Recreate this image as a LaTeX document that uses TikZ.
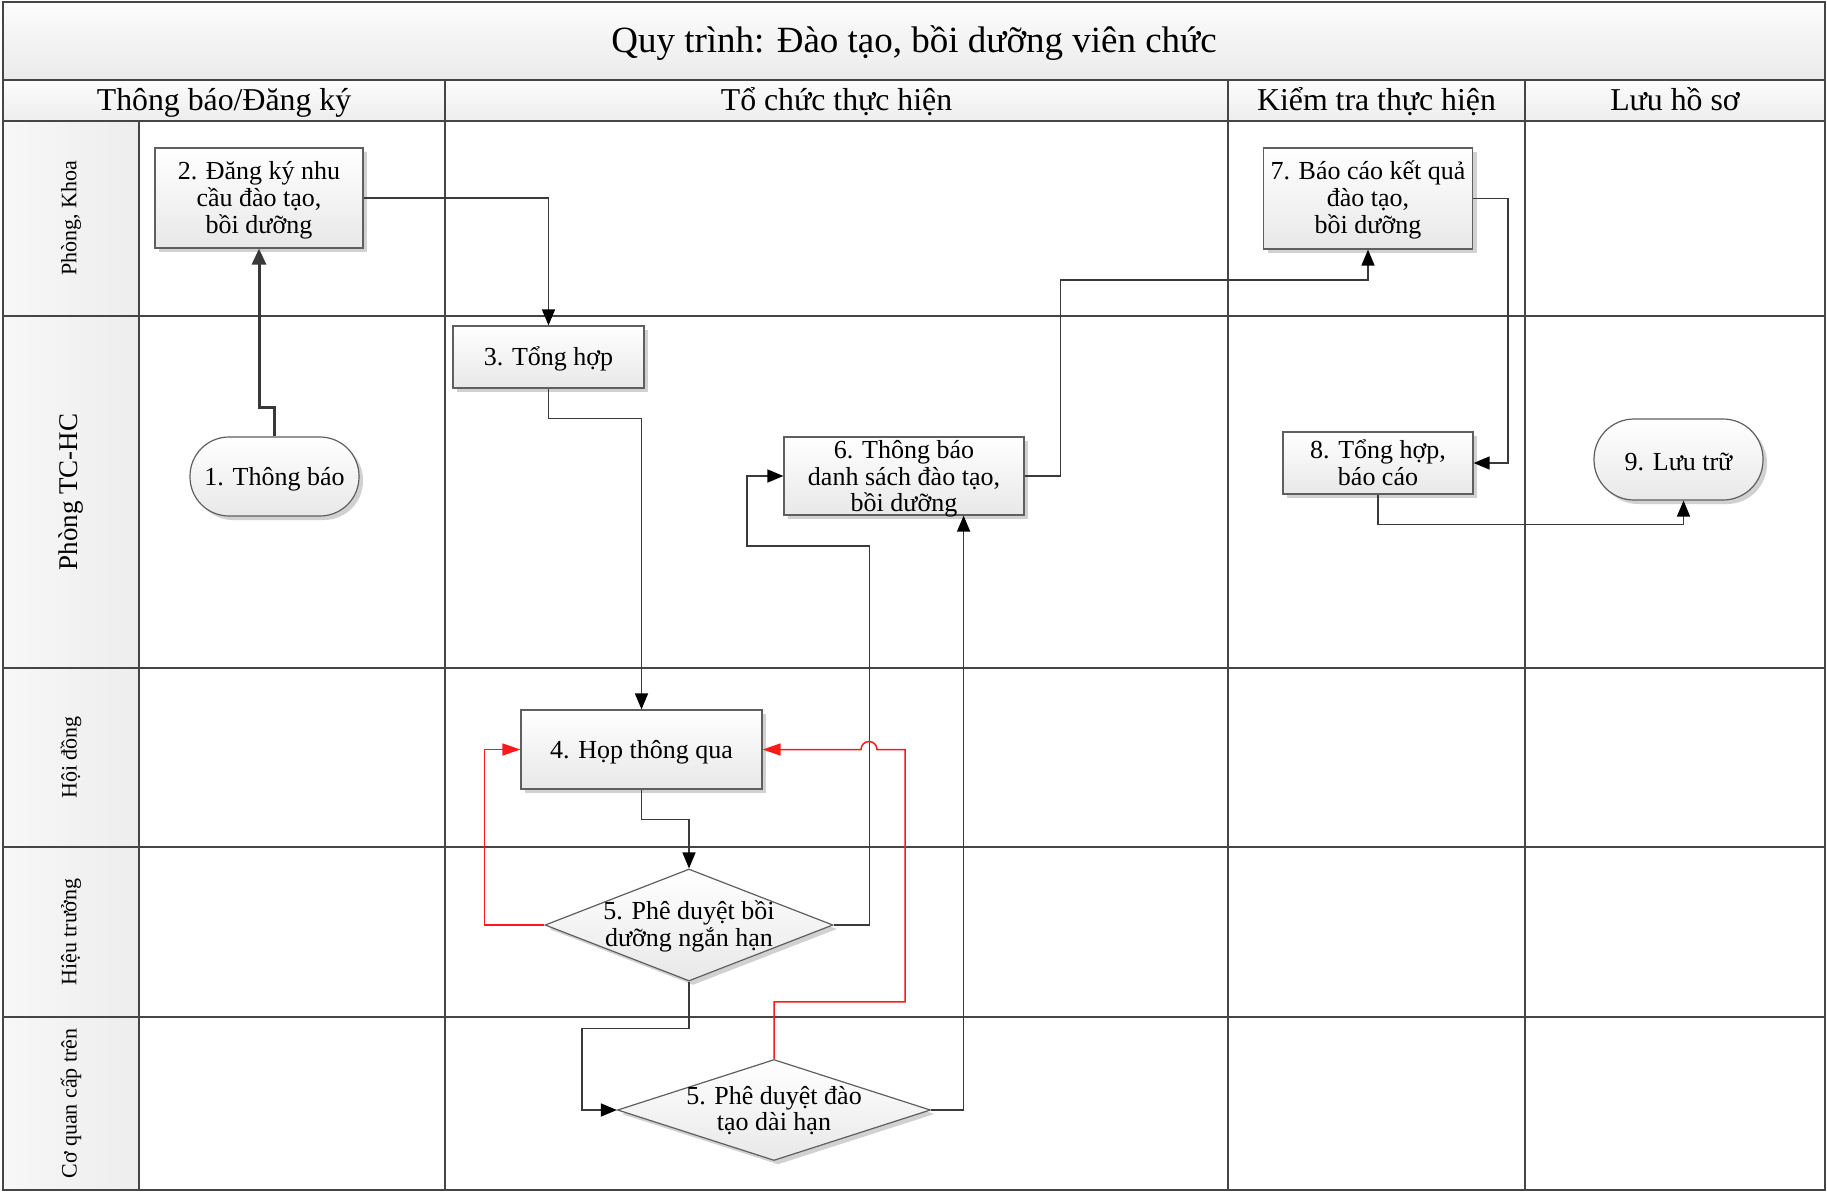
\documentclass[tikz,border=0pt]{standalone}
\usepackage{fontspec}
\setmainfont{Liberation Serif}
\usetikzlibrary{arrows.meta,shapes.geometric,shadows,calc}
\definecolor{gridc}{HTML}{454545}
\definecolor{linec}{HTML}{3A3A3A}
\definecolor{redc}{HTML}{FF1A1A}
\definecolor{bordc}{HTML}{5F5F5F}
\begin{document}
\begin{tikzpicture}[x=1pt,y=-1pt,
  grid/.style={draw=gridc,line width=2.2pt},
  shd/.style={drop shadow={shadow xshift=4pt,shadow yshift=-4pt,fill=black!18,opacity=1}},
  box/.style={draw=bordc,line width=1.2pt,top color=white,bottom color=black!9,align=center,
     font=\fontsize{26}{26.7}\selectfont,inner sep=0pt,shd,
     execute at begin node={\rule{0pt}{23pt}}},
  term/.style={box,rounded corners=39pt},
  dia/.style={diamond,draw=bordc,line width=1.2pt,top color=white,bottom color=black!9,inner sep=0pt,shd},
  txt/.style={align=center,font=\fontsize{26}{26.7}\selectfont,inner sep=0pt},
  conn/.style={draw=linec,line width=1.5pt,-{Triangle[length=16pt,width=13pt,color=black]}},
  thickconn/.style={draw=black!78,line width=3pt,-{Triangle[length=16pt,width=14pt,color=black!78]}},
  redconn/.style={draw=redc,line width=1.5pt,-{Triangle[length=18pt,width=12pt,color=redc]}},
  lane/.style={rotate=90,font=\fontsize{22}{24}\selectfont,inner sep=0pt},
  head/.style={font=\fontsize{31.8}{34}\selectfont,inner sep=0pt,anchor=base},
]
\useasboundingbox[fill=white] (0,0) rectangle (1827,1192);
% background fills
\shade[top color=black!1,bottom color=black!8] (3,2) rectangle (1825,80);
\shade[top color=black!1,bottom color=black!7] (3,80) rectangle (1825,121);
\shade[left color=black!3,right color=black!7] (3,121) rectangle (139,1190);
% grid
\draw[grid] (3,2) rectangle (1825,1190);
\draw[grid] (3,80) -- (1825,80);
\draw[grid] (3,121) -- (1825,121);
\foreach \yy in {316,668,847,1017} \draw[grid] (3,\yy) -- (1825,\yy);
\draw[grid] (139,121) -- (139,1190);
\foreach \xx in {445,1228,1525} \draw[grid] (\xx,80) -- (\xx,1190);
% title and headers
\node[font=\fontsize{37}{40}\selectfont,inner sep=0pt,anchor=base] (title) at (914,52) {Quy trình: Đào tạo, bồi dưỡng viên chức};
\node[head] (h1) at (224,110) {Thông báo/Đăng ký};
\node[head] (h2) at (836.5,110) {Tổ chức thực hiện};
\node[head] (h3) at (1376.5,110) {Kiểm tra thực hiện};
\node[head] (h4) at (1675,110) {Lưu hồ sơ};
% lane labels
\node[lane] (l1) at (71,218.5) {Phòng, Khoa};
\node[lane,font=\fontsize{27}{29}\selectfont] (l2) at (71,492) {Phòng TC-HC};
\node[lane] (l3) at (71,757.5) {Hội đồng};
\node[lane] (l4) at (71,932) {Hiệu trưởng};
\node[lane] (l5) at (71,1103.5) {Cơ quan cấp trên};
% nodes
\node[box,minimum width=208pt,minimum height=100pt] (n2) at (259,198) {};
\node[txt] (t2) at (259,200.3) {2. Đăng ký nhu\\cầu đào tạo,\\bồi dưỡng};
\node[term,minimum width=169pt,minimum height=79pt] (n1) at (274.5,476.5) {1. Thông báo};
\node[box,minimum width=191pt,minimum height=62pt] (n3) at (548.5,357) {3. Tổng hợp};
\node[box,minimum width=241pt,minimum height=79pt] (n4) at (641.5,749.5) {4. Họp thông qua};
\node[dia,minimum width=288pt,minimum height=112pt] (d5a) at (689,925) {};
\node[txt] (t5a) at (689,926.5) {5. Phê duyệt bồi\\dưỡng ngắn hạn};
\node[dia,minimum width=313pt,minimum height=101pt] (d5b) at (774,1110) {};
\node[txt] (t5b) at (774,1110.5) {5. Phê duyệt đào\\tạo dài hạn};
\node[box,minimum width=240pt,minimum height=78pt] (n6) at (904,476) {};
\node[txt] (t6) at (904,479) {6. Thông báo\\danh sách đào tạo,\\bồi dưỡng};
\node[box,minimum width=209pt,minimum height=101pt] (n7) at (1368,198.5) {};
\node[txt] (t7) at (1368,199.7) {7. Báo cáo kết quả\\đào tạo,\\bồi dưỡng};
\node[box,minimum width=190pt,minimum height=62pt] (n8) at (1378,463) {8. Tổng hợp,\\báo cáo};
\node[term,rounded corners=40pt,minimum width=169pt,minimum height=81pt] (n9) at (1678.5,459.5) {9. Lưu trữ};
% connectors
\draw[thickconn] (n1.north) -- ++(0,-29) -| (n2.south);
\draw[conn] (n2.east) -| (n3.north);
\draw[conn] (n3.south) -- ++(0,30) -| (n4.north);
\draw[conn] (n4.south) -- ++(0,30) -| (d5a.north);
\draw[redconn] (d5a.west) -- ++(-60,0) |- (n4.west);
\draw[conn] (d5a.east) -- ++(36,0) |- (747,546) |- (n6.west);
\draw[conn] (d5a.south) -- ++(0,47) -- ++(-107,0) |- (d5b.west);
\draw[redconn] (d5b.north) -- ++(0,-57) -| (905,749.5) -- (877,749.5) arc[start angle=0,end angle=180,radius=8pt] -- (n4.east);
\draw[conn] (d5b.east) -| ($(n6.south east)+(-61,0)$);
\draw[conn] (n6.east) -- ++(36,0) |- ($(n7.south)+(0,30.5)$) -- (n7.south);
\draw[conn] (n7.east) -- ++(35,0) |- (n8.east);
\draw[conn] (n8.south) -- ++(0,30) -| ($(n9.south)+(5,0)$);
\end{tikzpicture}
\end{document}
